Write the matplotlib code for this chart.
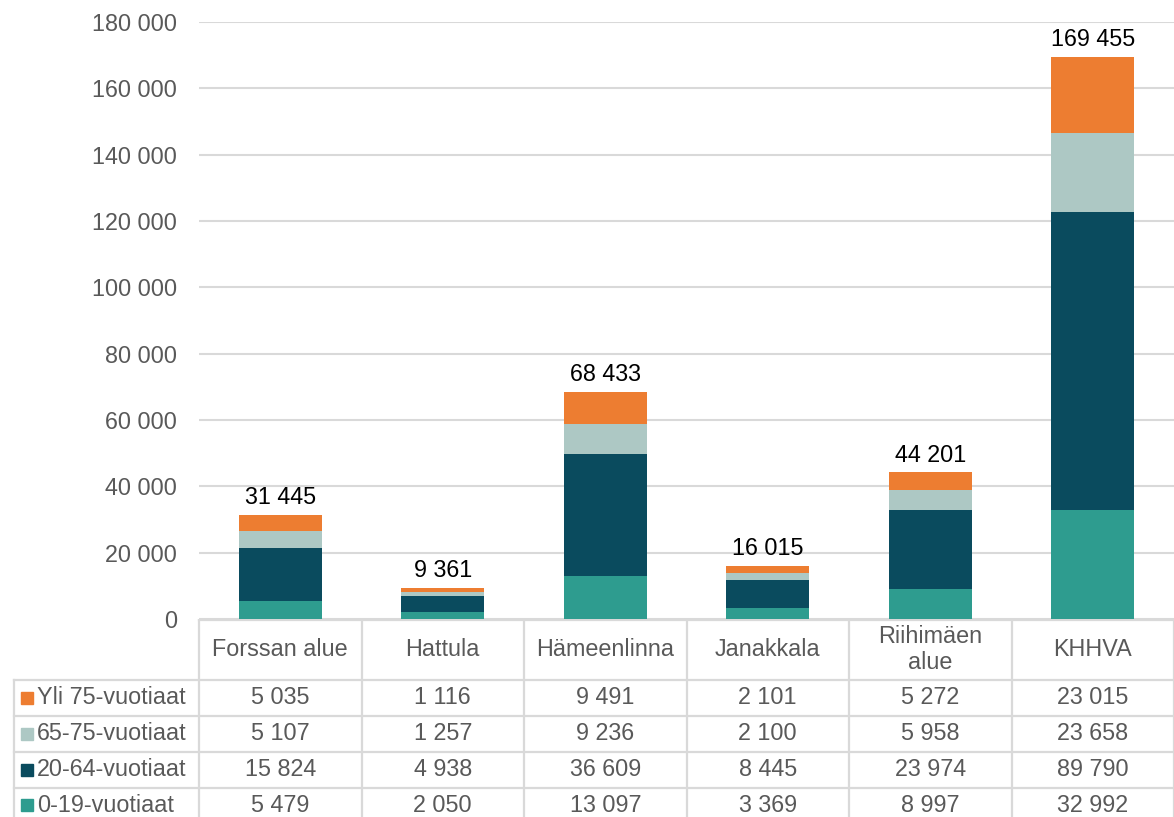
import matplotlib
matplotlib.use("Agg")
import matplotlib.pyplot as plt
from matplotlib.lines import Line2D
from matplotlib.patches import Rectangle

plt.rcParams['font.family'] = ['Liberation Sans', 'DejaVu Sans']

# data
alueet = ["Forssan alue", "Hattula", "Hämeenlinna", "Janakkala", "Riihimäen\nalue", "KHHVA"]
ryhmat = ["0-19-vuotiaat", "20-64-vuotiaat", "65-75-vuotiaat", "Yli 75-vuotiaat"]
v0_19 = [5479, 2050, 13097, 3369, 8997, 32992]
v20_64 = [15824, 4938, 36609, 8445, 23974, 89790]
v65_75 = [5107, 1257, 9236, 2100, 5958, 23658]
v75 = [5035, 1116, 9491, 2101, 5272, 23015]
varit = ["#2E9C8F", "#0A4B5E", "#ADC8C4", "#ED7D31"]

sarjat = [v0_19, v20_64, v65_75, v75]
fs = 16.8


def fmt(n):
    return f"{n:,}".replace(",", " ")


W, H = 1174, 817
fig = plt.figure(figsize=(W / 100, H / 100), dpi=100)

# plot area in pixels
left, right, top, bottom = 199, 1174, 22, 619
ax = fig.add_axes([left / W, 1 - bottom / H, (right - left) / W, (bottom - top) / H])

n = len(alueet)
x = list(range(n))
pohja = [0] * n
for arvot, vari in zip(sarjat, varit):
    ax.bar(x, arvot, bottom=pohja, width=0.51, color=vari, zorder=3)
    pohja = [p + a for p, a in zip(pohja, arvot)]

for i, yht in enumerate(pohja):
    ax.annotate(fmt(yht), (i, yht), xytext=(0, 4), textcoords="offset points",
                ha="center", va="bottom", fontsize=fs, color="black")

ax.set_xlim(-0.5, n - 0.5)
ax.set_ylim(0, 180000)
ax.set_yticks(range(0, 180001, 20000))
ax.set_yticklabels([fmt(t) for t in range(0, 180001, 20000)], fontsize=fs, color="#595959")
ax.set_xticks([])
ax.tick_params(axis="y", length=0, pad=16)
ax.grid(axis="y", color="#D9D9D9", linewidth=1.5, zorder=0)
for s in ax.spines.values():
    s.set_visible(False)

# data table
tb = fig.add_axes([0, 0, 1, (H - bottom) / H])
tb.set_xlim(0, W)
tb.set_ylim(H, bottom)
tb.axis("off")

lc = "#D9D9D9"
lw = 1.6
solu = (right - left) / n
rivit = [680, 716, 752, 788, 824]
tb.add_line(Line2D([left, right], [bottom + 1, bottom + 1], color=lc, lw=lw))
for y in rivit[:-1]:
    tb.add_line(Line2D([14, right], [y, y], color=lc, lw=lw))
tb.add_line(Line2D([14, 14], [rivit[0], H], color=lc, lw=lw))
for i in range(n + 1):
    xv = left + i * solu
    tb.add_line(Line2D([xv, xv], [bottom, H], color=lc, lw=lw))

for i, nimi in enumerate(alueet):
    tb.text(left + (i + 0.5) * solu, (bottom + rivit[0]) / 2, nimi, ha="center", va="center",
            fontsize=fs, color="#595959", linespacing=1.2)

for r, k in enumerate(range(len(sarjat) - 1, -1, -1)):
    yc = (rivit[r] + rivit[r + 1]) / 2 if r < 3 else rivit[r] + 17
    tb.add_patch(Rectangle((21, yc - 6), 12, 12, color=varit[k]))
    tb.text(37, yc, ryhmat[k], ha="left", va="center", fontsize=fs, color="#595959")
    for i in range(n):
        tb.text(left + (i + 0.5) * solu, yc, fmt(sarjat[k][i]), ha="center", va="center",
                fontsize=fs, color="#595959")

fig.savefig("out.png", dpi=100)
